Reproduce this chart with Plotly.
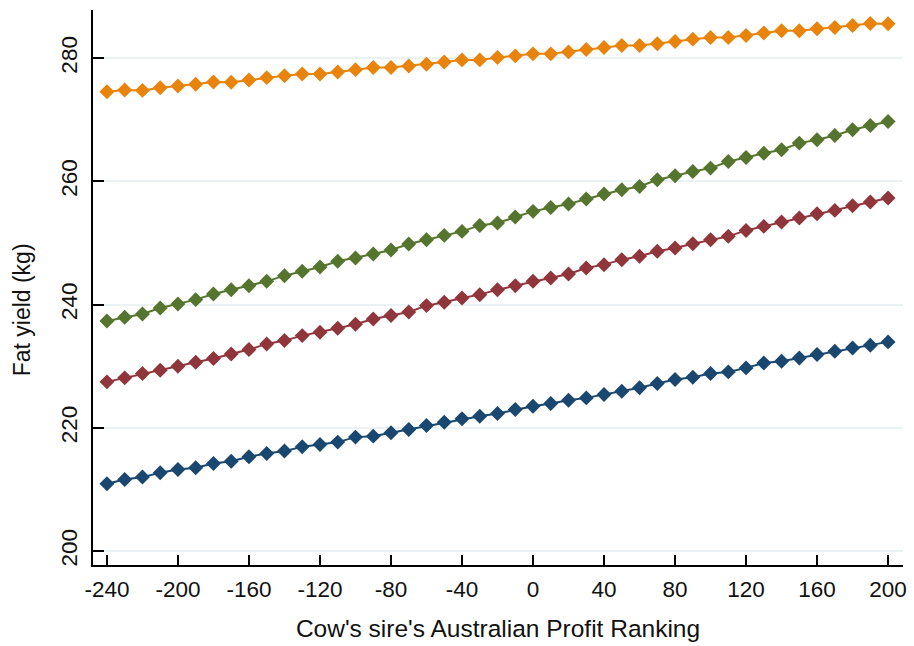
import plotly.graph_objects as go

apr = list(range(-240, 201, 10))

orange = [274.57, 274.84, 274.78, 275.22, 275.49, 275.76, 276.14, 276.09, 276.47, 276.85,
          277.17, 277.45, 277.45, 277.77, 278.15, 278.48, 278.48, 278.75, 279.02, 279.40,
          279.73, 279.73, 280.11, 280.38, 280.71, 280.71, 281.03, 281.41, 281.74, 282.05,
          282.05, 282.34, 282.72, 283.10, 283.37, 283.37, 283.70, 284.08, 284.46, 284.46,
          284.78, 285.00, 285.33, 285.65, 285.60]

green = [237.35, 237.95, 238.49, 239.46, 240.11, 240.81, 241.73, 242.43, 243.08, 243.78,
         244.70, 245.41, 246.11, 247.03, 247.57, 248.22, 248.86, 249.84, 250.54, 251.24,
         251.89, 252.86, 253.24, 254.22, 255.14, 255.78, 256.32, 257.14, 257.95, 258.65,
         259.19, 260.27, 260.92, 261.62, 262.16, 263.24, 263.89, 264.59, 265.14, 266.22,
         266.76, 267.46, 268.38, 269.08, 269.73]

red = [227.46, 228.11, 228.81, 229.35, 230.00, 230.65, 231.24, 232.00, 232.70, 233.62,
       234.16, 234.97, 235.51, 236.16, 236.81, 237.68, 238.22, 238.81, 239.84, 240.38,
       241.08, 241.62, 242.43, 243.08, 243.78, 244.32, 244.97, 245.95, 246.49, 247.30,
       247.84, 248.65, 249.19, 249.89, 250.54, 251.08, 252.05, 252.70, 253.41, 254.05,
       254.76, 255.30, 256.05, 256.65, 257.30]

blue = [210.92, 211.62, 212.00, 212.70, 213.24, 213.51, 214.22, 214.59, 215.30, 215.84,
        216.22, 216.92, 217.30, 217.68, 218.49, 218.65, 219.19, 219.73, 220.38, 220.92,
        221.46, 221.89, 222.32, 222.97, 223.51, 223.95, 224.49, 224.86, 225.41, 225.95,
        226.49, 227.19, 227.84, 228.22, 228.81, 229.08, 229.73, 230.54, 230.81, 231.35,
        231.89, 232.43, 232.97, 233.41, 233.95]

x_ticks = list(range(-240, 201, 40))
y_ticks = [200, 220, 240, 260, 280]

series = [
    ("Series 1", blue, "#1a476f"),
    ("Series 2", red, "#90353b"),
    ("Series 3", green, "#55752f"),
    ("Series 4", orange, "#e8830c"),
]

fig = go.Figure()
for name, vals, col in series:
    fig.add_trace(go.Scatter(
        x=apr, y=vals, mode="lines+markers", name=name,
        line=dict(color=col, width=2),
        marker=dict(symbol="diamond", size=11.5, color=col, line=dict(width=0)),
    ))

fig.update_layout(
    width=914, height=646,
    margin=dict(l=93, r=7, t=10, b=81),
    paper_bgcolor="white", plot_bgcolor="white",
    showlegend=False,
    font=dict(family="Arial, Liberation Sans, sans-serif", color="#111111"),
    xaxis=dict(
        range=[-247.85, 208.4], tickvals=x_ticks, ticktext=[str(v) for v in x_ticks],
        showgrid=False, zeroline=False, showline=True, linecolor="black", linewidth=2,
        ticks="inside", ticklen=10, tickwidth=2, tickcolor="black",
        tickfont=dict(size=22.5), ticklabelstandoff=3,
        title=dict(text="Cow's sire's Australian Profit Ranking", font=dict(size=24.5), standoff=19),
    ),
    yaxis=dict(
        range=[197.73, 287.83], tickvals=y_ticks, ticktext=[str(v) for v in y_ticks],
        showgrid=True, gridcolor="#eaf2f3", gridwidth=2, zeroline=False,
        showline=True, linecolor="black", linewidth=2,
        ticks="inside", ticklen=11, tickwidth=2, tickcolor="black",
        tickangle=-90, tickfont=dict(size=22.5), ticklabelstandoff=5,
    ),
    annotations=[dict(
        text="Fat yield (kg)", xref="paper", yref="paper",
        x=(22 - 93) / 814, y=(565 - 310) / 555, textangle=-90,
        showarrow=False, font=dict(size=23), xanchor="center", yanchor="middle",
    )],
)

fig.write_html("out.html")
